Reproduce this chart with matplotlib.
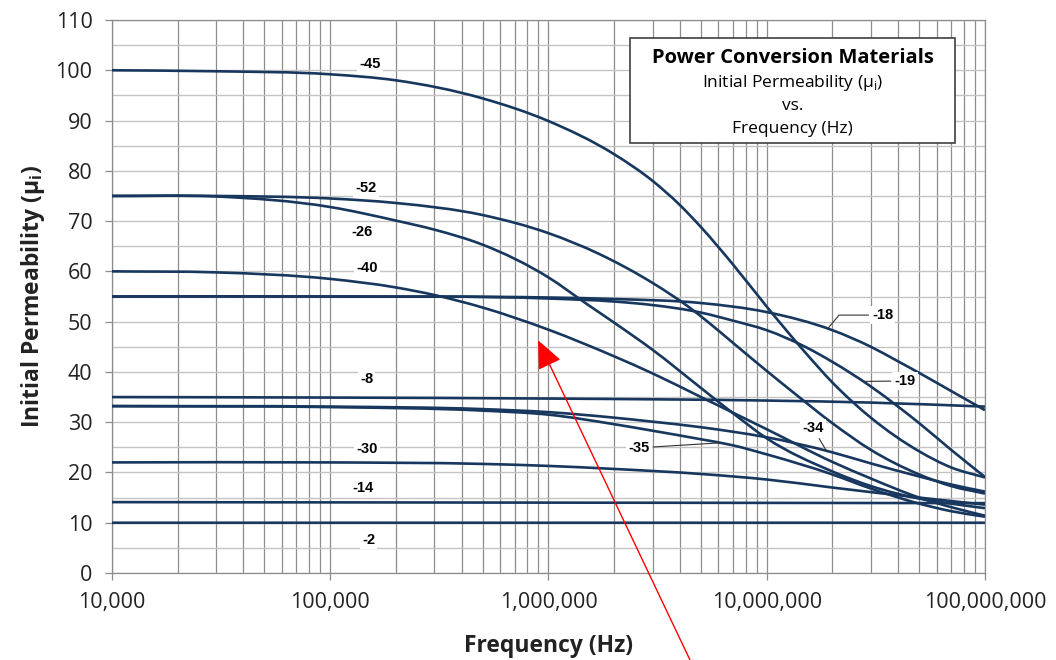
import numpy as np
import matplotlib
matplotlib.use("Agg")
from matplotlib import pyplot as plt
from matplotlib.patches import Rectangle, PathPatch
from matplotlib.path import Path
from matplotlib.ticker import FixedLocator, NullFormatter, MultipleLocator

plt.rcParams["font.family"] = ["Open Sans", "DejaVu Sans"]
plt.rcParams["mathtext.fontset"] = "custom"
plt.rcParams["mathtext.rm"] = "Open Sans"
plt.rcParams["mathtext.bf"] = "Open Sans:bold"

LINE_COLOR = "#17375e"
LABEL_FONT = ["Liberation Sans", "DejaVu Sans"]

# ---- data: frequency (Hz) and initial permeability ----
f_45 = [1e4, 3e4, 1e5, 2e5, 5e5, 1e6, 2e6, 3e6, 4e6, 5e6, 7e6, 1e7, 1.5e7, 2e7, 3e7, 5e7, 7e7, 1e8]
mu_45 = [100, 99.8, 99.2, 98.0, 94.4, 89.9, 83.3, 78.0, 73.2, 68.8, 61.4, 53.0, 43.9, 37.9, 30.9, 24.2, 21.0, 19.0]

f_52 = [1e4, 3e4, 1e5, 2e5, 5e5, 1e6, 1.7e6, 3e6, 4.4e6, 5.5e6, 7e6, 1e7, 1.3e7, 2e7, 3e7, 5e7, 7e7, 1e8]
mu_52 = [75, 75, 74.5, 73.6, 71.2, 67.6, 63.5, 57.7, 52.9, 49.6, 45.8, 40.2, 36.2, 29.8, 24.5, 19.6, 17.3, 15.8]

f_26 = [1e4, 3e4, 1e5, 2e5, 3e5, 5e5, 1e6, 1.5e6, 2e6, 3e6, 5e6, 7e6, 1e7, 2e7, 3e7, 5e7, 7e7, 1e8]
mu_26 = [75, 74.9, 72.8, 70.1, 68.3, 65.3, 58.8, 53.5, 49.8, 44.4, 36.8, 31.8, 26.8, 20.2, 17.3, 14.8, 13.8, 12.9]

f_40 = [1e4, 3e4, 1e5, 2e5, 3e5, 5e5, 1e6, 2e6, 3e6, 5e6, 7e6, 1e7, 2e7, 3e7, 5e7, 7e7, 1e8]
mu_40 = [60, 59.8, 58.5, 56.8, 55.3, 52.8, 48.4, 43.1, 39.7, 35.0, 31.9, 28.6, 22.1, 18.8, 15.0, 13.1, 11.4]

f_18 = [1e4, 1e5, 1e6, 2e6, 5e6, 1e7, 2e7, 3e7, 4e7, 5e7, 7e7, 1e8]
mu_18 = [55, 55, 54.8, 54.5, 53.7, 51.9, 48.3, 45.0, 42.1, 39.8, 36.2, 32.4]

f_19 = [1e4, 1e5, 1e6, 2e6, 3e6, 5e6, 7e6, 1e7, 1.5e7, 2e7, 3e7, 4e7, 5e7, 7e7, 1e8]
mu_19 = [55, 55, 54.6, 54.0, 53.3, 51.8, 50.2, 48.3, 45.0, 42.0, 37.1, 33.1, 29.8, 24.5, 19.1]

f_8 = [1e4, 1e5, 1e6, 1e7, 3e7, 1e8]
mu_8 = [35, 34.9, 34.7, 34.3, 33.9, 33.1]

f_34 = [1e4, 1e5, 5e5, 1e6, 2e6, 3e6, 5e6, 7e6, 1e7, 2e7, 3e7, 5e7, 7e7, 1e8]
mu_34 = [33.2, 33.1, 32.6, 32.0, 30.9, 30.1, 29.0, 28.1, 27.0, 24.0, 21.8, 19.2, 17.6, 16.2]

f_35 = [1e4, 1e5, 5e5, 1e6, 2e6, 3e6, 5e6, 7e6, 1e7, 2e7, 3e7, 5e7, 7e7, 1e8]
mu_35 = [33.2, 33.0, 32.3, 31.5, 29.6, 28.3, 26.6, 25.4, 23.6, 19.6, 16.8, 13.8, 12.3, 11.2]

f_30 = [1e4, 1e5, 5e5, 1e6, 2e6, 5e6, 1e7, 2e7, 5e7, 1e8]
mu_30 = [22, 22, 21.7, 21.3, 20.7, 19.7, 18.6, 17.0, 15.0, 13.6]

f_14 = [1e4, 1e6, 1e8]
mu_14 = [14.1, 14.0, 13.9]

f_2 = [1e4, 1e8]
mu_2 = [10, 10]

x_ticks = [1e4, 1e5, 1e6, 1e7, 1e8]
x_tick_labels = ["10,000", "100,000", "1,000,000", "10,000,000", "100,000,000"]
y_ticks = list(range(0, 111, 10))

# label text, label position (f, mu), leader hit frequency (or None), leader style
curves = [
    ("-45", f_45, mu_45, (1.52e5, 101.2), None, None),
    ("-52", f_52, mu_52, (1.46e5, 76.5), None, None),
    ("-26", f_26, mu_26, (1.40e5, 67.8), None, None),
    ("-40", f_40, mu_40, (1.47e5, 60.6), None, None),
    ("-18", f_18, mu_18, (3.4e7, 51.3), 1.9e7, "angle,angleA=180,angleB=50,rad=0"),
    ("-19", f_19, mu_19, (4.3e7, 38.2), 2.76e7, "arc3"),
    ("-8", f_8, mu_8, (1.47e5, 38.6), None, None),
    ("-34", f_34, mu_34, (1.63e7, 28.8), 1.88e7, "arc3"),
    ("-35", f_35, mu_35, (2.6e6, 24.9), 6.1e6, "arc3"),
    ("-30", f_30, mu_30, (1.47e5, 24.7), None, None),
    ("-14", f_14, mu_14, (1.42e5, 16.9), None, None),
    ("-2", f_2, mu_2, (1.5e5, 6.6), None, None),
]

# red arrow: tip on the chart, tail at the bottom edge of the figure
arrow_tip = (8.96e5, 46.3)
arrow_tail_fig = (0.6534, 0.0)


def smooth_path(f, mu):
    """Smoothed line through the points (cubic Hermite in log-x space, drawn as beziers)."""
    x = np.log10(f)
    y = np.asarray(mu, float)
    n = len(x)
    h = np.diff(x)
    d = np.diff(y) / h
    m = np.empty(n)
    m[0] = d[0]
    m[-1] = d[-1]
    for i in range(1, n - 1):
        m[i] = (d[i - 1] * h[i] + d[i] * h[i - 1]) / (h[i - 1] + h[i])
    verts = [(x[0], y[0])]
    codes = [Path.MOVETO]
    for i in range(n - 1):
        verts += [(x[i] + h[i] / 3, y[i] + m[i] * h[i] / 3),
                  (x[i + 1] - h[i] / 3, y[i + 1] - m[i + 1] * h[i] / 3),
                  (x[i + 1], y[i + 1])]
        codes += [Path.CURVE4] * 3
    verts = np.array(verts)
    verts[:, 0] = 10 ** verts[:, 0]
    return Path(verts, codes)


fig = plt.figure(figsize=(10.56, 6.6), dpi=100)
ax = fig.add_axes([0.106, 0.1318, 0.8267, 0.8379])
ax.set_xscale("log")
ax.set_xlim(1e4, 1e8)
ax.set_ylim(0, 110)

for name, f, mu, lpos, lead_f, conn in curves:
    ax.add_patch(PathPatch(smooth_path(f, mu), fill=False, ec=LINE_COLOR, lw=1.9,
                           capstyle="butt", zorder=3))
    box = dict(boxstyle="square,pad=0.15", fc="white", ec="none")
    if lead_f is None:
        ax.text(lpos[0], lpos[1], name, ha="center", va="center", fontsize=10.5,
                fontweight="bold", family=LABEL_FONT, bbox=box, zorder=4)
    else:
        lead_mu = np.interp(np.log10(lead_f), np.log10(f), mu)
        ax.annotate(name, xy=(lead_f, lead_mu), xytext=lpos, ha="center", va="center",
                    fontsize=10.5, fontweight="bold", family=LABEL_FONT, bbox=box, zorder=4,
                    arrowprops=dict(arrowstyle="-", color="#333333", lw=0.8,
                                    shrinkA=1, shrinkB=0, connectionstyle=conn))

ax.xaxis.set_major_locator(FixedLocator(x_ticks))
ax.set_xticklabels(x_tick_labels)
ax.xaxis.set_minor_locator(FixedLocator(
    [m * 10 ** e for e in range(4, 8) for m in range(2, 10)]))
ax.xaxis.set_minor_formatter(NullFormatter())
ax.set_yticks(y_ticks)
ax.yaxis.set_minor_locator(MultipleLocator(5))

ax.grid(True, which="both", axis="x", color="#8c8c8c", lw=0.9, zorder=1)
ax.grid(True, which="both", axis="y", color="#c4c4c4", lw=1.0, zorder=1)
ax.set_axisbelow(True)

for sp in ax.spines.values():
    sp.set_color("#8c8c8c")
    sp.set_linewidth(0.9)

ax.tick_params(which="major", direction="out", length=5, width=0.9, color="#8c8c8c",
               labelsize=15.5, labelcolor="#222222")
ax.tick_params(which="minor", length=0)
ax.tick_params(axis="y", pad=9)
ax.tick_params(axis="x", pad=9)

ax.set_xlabel("Frequency (Hz)", fontsize=16.5, fontweight="bold", color="#222222")
ax.set_ylabel(r"Initial Permeability (µ$_\mathbf{i}$)", fontsize=16.5, fontweight="bold",
              color="#222222")
ax.xaxis.set_label_coords(0.5, -0.11)
ax.yaxis.set_label_coords(-0.074, 0.5)

# title box
ax.add_patch(Rectangle((0.593, 0.778), 0.373, 0.189, transform=ax.transAxes,
                       fc="white", ec="#404040", lw=1.2, zorder=5))
ax.text(0.78, 0.931, "Power Conversion Materials", transform=ax.transAxes, ha="center",
        va="center", fontsize=14.5, fontweight="bold", zorder=6)
ax.text(0.78, 0.886, r"Initial Permeability (µ$_\mathrm{i}$)", transform=ax.transAxes,
        ha="center", va="center", fontsize=12.5, zorder=6)
ax.text(0.78, 0.845, "vs.", transform=ax.transAxes, ha="center", va="center",
        fontsize=12.5, zorder=6)
ax.text(0.78, 0.803, "Frequency (Hz)", transform=ax.transAxes, ha="center", va="center",
        fontsize=12.5, zorder=6)

ax.annotate("", xy=arrow_tip, xytext=arrow_tail_fig, textcoords="figure fraction",
            arrowprops=dict(arrowstyle="-|>,head_length=0.8,head_width=0.35",
                            color="red", lw=1.0, mutation_scale=22, shrinkA=0, shrinkB=0),
            zorder=7, annotation_clip=False)

fig.savefig("out.png", dpi=100)
